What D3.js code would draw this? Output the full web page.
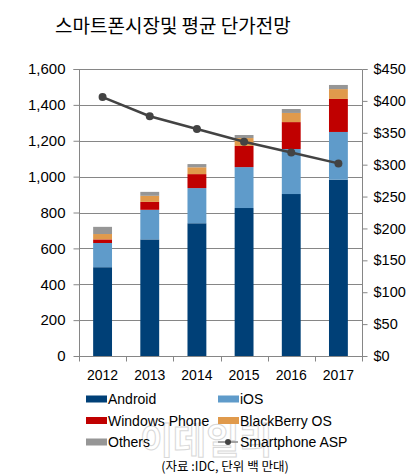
<!DOCTYPE html>
<html>
<head>
<meta charset="utf-8">
<script src="https://cdn.jsdelivr.net/npm/d3@7"></script>
<style>
  body { margin: 0; background: #fff; }
  svg { display: block; }
</style>
</head>
<body>
<div id="chart"></div>
<script>
// data (units: millions, ASP in $)
const years = ['2012', '2013', '2014', '2015', '2016', '2017'];
const android = [495, 650, 740, 825, 903, 983];
const ios = [135, 165, 196, 228, 251, 266];
const windowsPhone = [20, 44, 78, 118, 150, 184];
const blackberry = [30, 34, 38, 44, 51, 55];
const others = [40, 22, 18, 17, 22, 23];
const asp = [406, 376, 356, 336, 319, 302];

const leftTicks = [0, 200, 400, 600, 800, 1000, 1200, 1400, 1600];
const rightTicks = [0, 50, 100, 150, 200, 250, 300, 350, 400, 450];

const seriesNames = ['Android', 'iOS', 'Windows Phone', 'BlackBerry OS', 'Others'];
const seriesValues = [android, ios, windowsPhone, blackberry, others];
const colors = ['#004077', '#5f9bca', '#c00000', '#e09a4c', '#969696'];

const width = 410, height = 476;
const plot = { left: 79, right: 362, top: 69, bottom: 356 };
const axisColor = '#868686';
const font = '"Liberation Sans", Arial, sans-serif';
const krFont = '"Noto Sans CJK KR", sans-serif';

const svg = d3.select('#chart').append('svg')
    .attr('width', width)
    .attr('height', height);

// title
svg.append('text')
    .attr('x', 55)
    .attr('y', 24)
    .attr('dominant-baseline', 'central')
    .attr('font-family', krFont)
    .attr('font-size', 19)
    .attr('fill', '#000')
    .text('스마트폰시장및 평균 단가전망');

const x = d3.scaleBand()
    .domain(years)
    .range([plot.left, plot.right])
    .paddingInner(0.6)
    .paddingOuter(0.3);

const y = d3.scaleLinear().domain([0, 1600]).range([plot.bottom, plot.top]);
const y2 = d3.scaleLinear().domain([0, 450]).range([plot.bottom, plot.top]);

// gridlines
svg.append('g')
    .selectAll('line')
    .data(leftTicks.filter(d => d > 0))
    .enter()
    .append('line')
    .attr('x1', plot.left)
    .attr('x2', plot.right)
    .attr('y1', d => Math.round(y(d)) + 0.5)
    .attr('y2', d => Math.round(y(d)) + 0.5)
    .attr('stroke', axisColor)
    .attr('stroke-width', 1);

// stacked bars
const rows = years.map((yr, i) => {
    const r = { year: yr };
    seriesNames.forEach((s, k) => { r[s] = seriesValues[k][i]; });
    return r;
});
const stacked = d3.stack().keys(seriesNames)(rows);

svg.append('g')
    .selectAll('g')
    .data(stacked)
    .enter()
    .append('g')
    .attr('fill', (d, i) => colors[i])
    .selectAll('rect')
    .data(d => d)
    .enter()
    .append('rect')
    .attr('x', d => x(d.data.year))
    .attr('width', x.bandwidth())
    .attr('y', d => y(d[1]))
    .attr('height', d => y(d[0]) - y(d[1]));

// axes
const leftAxis = svg.append('g')
    .attr('transform', `translate(${plot.left + 0.5},0)`)
    .call(d3.axisLeft(y).tickValues(leftTicks).tickSize(6).tickPadding(8)
        .tickFormat(d3.format(',')));

const rightAxis = svg.append('g')
    .attr('transform', `translate(${plot.right + 0.5},0)`)
    .call(d3.axisRight(y2).tickValues(rightTicks).tickSize(5).tickPadding(6)
        .tickFormat(d => '$' + d));

const boundaries = years.map((d, i) => i).concat([years.length]);
const xb = d3.scaleLinear().domain([0, years.length]).range([plot.left, plot.right]);

const bottomAxis = svg.append('g')
    .attr('transform', `translate(0,${plot.bottom + 0.5})`);
bottomAxis.append('line')
    .attr('x1', plot.left)
    .attr('x2', plot.right + 1)
    .attr('stroke', axisColor);
bottomAxis.selectAll('line.tick')
    .data(boundaries)
    .enter()
    .append('line')
    .attr('class', 'tick')
    .attr('x1', d => Math.round(xb(d)) + 0.5)
    .attr('x2', d => Math.round(xb(d)) + 0.5)
    .attr('y1', 0)
    .attr('y2', 5)
    .attr('stroke', axisColor);
bottomAxis.selectAll('text')
    .data(years)
    .enter()
    .append('text')
    .attr('x', d => x(d) + x.bandwidth() / 2)
    .attr('y', 18)
    .attr('dominant-baseline', 'central')
    .attr('text-anchor', 'middle')
    .attr('font-family', font)
    .attr('font-size', 14)
    .attr('fill', '#000')
    .text(d => d);

[leftAxis, rightAxis].forEach(a => {
    a.select('.domain').attr('stroke', axisColor);
    a.selectAll('.tick line').attr('stroke', axisColor);
    a.selectAll('.tick text')
        .attr('font-family', font)
        .attr('fill', '#000');
});
leftAxis.selectAll('.tick text').attr('font-size', 15);
rightAxis.selectAll('.tick text').attr('font-size', 14.5);
leftAxis.select('.domain').attr('d', `M-6,${plot.top + 0.5}H0V${plot.bottom + 0.5}`);
rightAxis.select('.domain').attr('d', `M5,${plot.top + 0.5}H0V${plot.bottom + 0.5}`);

// ASP line
const line = d3.line()
    .x((d, i) => x(years[i]) + x.bandwidth() / 2)
    .y(d => y2(d));

svg.append('path')
    .datum(asp)
    .attr('d', line)
    .attr('fill', 'none')
    .attr('stroke', '#434343')
    .attr('stroke-width', 2.5);

svg.append('g')
    .selectAll('circle')
    .data(asp)
    .enter()
    .append('circle')
    .attr('cx', (d, i) => x(years[i]) + x.bandwidth() / 2)
    .attr('cy', d => y2(d))
    .attr('r', 4)
    .attr('fill', '#434343');

// watermark
svg.append('text')
    .attr('x', 140)
    .attr('y', 438)
    .attr('dominant-baseline', 'central')
    .attr('font-family', krFont)
    .attr('font-size', 36)
    .attr('font-weight', 'bold')
    .attr('fill', 'none')
    .attr('stroke', '#d8d8d8')
    .attr('stroke-width', 1)
    .text('이데일리');

// legend
const legendItems = seriesNames.map((s, i) => ({ name: s, color: colors[i], type: 'bar' }))
    .concat([{ name: 'Smartphone ASP', color: '#434343', type: 'line' }]);
const legend = svg.append('g');
legendItems.forEach((d, i) => {
    const lx = i % 2 === 0 ? 86 : 218;
    const ly = 399 + Math.floor(i / 2) * 21.5;
    const g = legend.append('g').attr('transform', `translate(${lx},${ly})`);
    if (d.type === 'bar') {
        g.append('rect')
            .attr('x', 0)
            .attr('y', -3.5)
            .attr('width', 21)
            .attr('height', 7)
            .attr('fill', d.color);
    } else {
        g.append('line')
            .attr('x1', 0)
            .attr('x2', 20)
            .attr('stroke', '#8a8a8a')
            .attr('stroke-width', 1.5);
        g.append('circle')
            .attr('cx', 10)
            .attr('r', 3)
            .attr('fill', d.color);
    }
    g.append('text')
        .attr('x', 22)
        .attr('y', 0)
        .attr('dominant-baseline', 'central')
        .attr('font-family', font)
        .attr('font-size', 14)
        .attr('fill', '#000')
        .text(d.name);
});

// source note
svg.append('text')
    .attr('x', 225)
    .attr('y', 465)
    .attr('dominant-baseline', 'central')
    .attr('text-anchor', 'middle')
    .attr('font-family', krFont)
    .attr('font-size', 12.5)
    .attr('fill', '#000')
    .text('(자료 :IDC, 단위 백 만대)');
</script>
</body>
</html>
